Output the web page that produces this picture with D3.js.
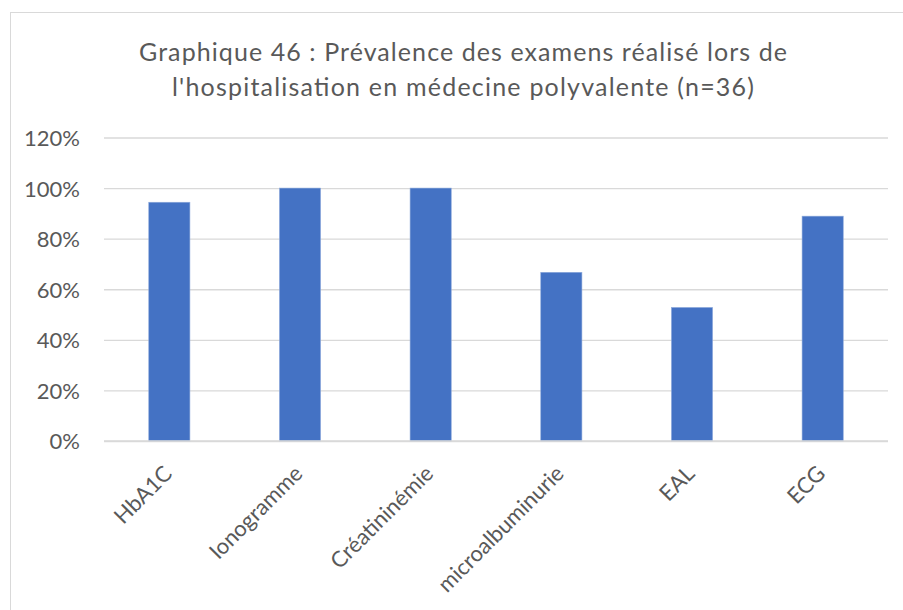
<!DOCTYPE html>
<html>
<head>
<meta charset="utf-8">
<script src="https://cdn.jsdelivr.net/npm/d3@7"></script>
<style>
  html, body { margin: 0; padding: 0; background: #fff; }
  svg { display: block; }
  text { font-family: Lato, "Open Sans", sans-serif; fill: #595959; }
</style>
</head>
<body>
<svg id="chart" width="903" height="610"></svg>
<script>
// Exams performed during the hospital stay (share of 36 patients)
const categories = ["HbA1C", "Ionogramme", "Créatininémie", "microalbuminurie", "EAL", "ECG"];
const prevalence = [0.944, 1.0, 1.0, 0.667, 0.528, 0.889];
const yTicks = [0, 0.2, 0.4, 0.6, 0.8, 1.0, 1.2];
const titleLines = [
  "Graphique 46 : Prévalence des examens réalisé lors de",
  "l'hospitalisation en médecine polyvalente (n=36)"
];
const titleWidths = [648, 582];

const svg = d3.select("#chart");

// chart frame
svg.append("rect")
  .attr("x", 10.5).attr("y", 12.5)
  .attr("width", 1000).attr("height", 1000)
  .attr("fill", "#fff")
  .attr("stroke", "#d9d9d9").attr("stroke-width", 1);

const plot = { left: 104, right: 888, top: 137.5, bottom: 441 };

const x = d3.scaleBand()
  .domain(categories)
  .range([plot.left, plot.right])
  .paddingInner(0.685)
  .paddingOuter(0.3425);

const y = d3.scaleLinear()
  .domain([0, 1.2])
  .range([plot.bottom, plot.top]);

// title, two centred lines
svg.append("text")
  .attr("text-anchor", "middle")
  .style("font-size", "25px")
  .selectAll("tspan")
  .data(titleLines)
  .join("tspan")
  .attr("x", 463)
  .attr("y", (d, i) => 61 + i * 34.5)
  .attr("textLength", (d, i) => titleWidths[i])
  .attr("lengthAdjust", "spacing")
  .text(d => d);

// horizontal gridlines + y labels
const yAxis = d3.axisLeft(y)
  .tickValues(yTicks)
  .tickSize(-(plot.right - plot.left))
  .tickPadding(24)
  .tickFormat(d3.format(".0%"));

const gy = svg.append("g")
  .attr("transform", `translate(${plot.left},0)`)
  .call(yAxis);
gy.select(".domain").remove();
gy.selectAll(".tick line").attr("stroke", "#d9d9d9").attr("stroke-width", 1.3);
gy.selectAll(".tick text")
  .style("font-size", "22px")
  .attr("fill", "#595959")
  .attr("dy", "0.36em");

// bars
svg.append("g")
  .selectAll("rect")
  .data(categories)
  .join("rect")
  .attr("x", d => x(d))
  .attr("width", x.bandwidth())
  .attr("y", (d, i) => y(prevalence[i]))
  .attr("height", (d, i) => y(0) - y(prevalence[i]))
  .attr("fill", "#4472c4")
  .attr("stroke", "#8eaadb")
  .attr("stroke-width", 0.6);

// baseline
svg.append("line")
  .attr("x1", plot.left).attr("x2", plot.right)
  .attr("y1", y(0)).attr("y2", y(0))
  .attr("stroke", "#d9d9d9").attr("stroke-width", 1.3);

// rotated category labels
const xAxis = d3.axisBottom(x).tickSize(0).tickPadding(0);
const gx = svg.append("g")
  .attr("transform", `translate(0,${plot.bottom})`)
  .call(xAxis);
gx.select(".domain").remove();
gx.selectAll(".tick text")
  .style("font-size", "22px")
  .attr("fill", "#595959")
  .attr("text-anchor", "end")
  .attr("dy", null)
  .attr("y", null)
  .attr("transform", "translate(4,34) rotate(-45)");
</script>
</body>
</html>
